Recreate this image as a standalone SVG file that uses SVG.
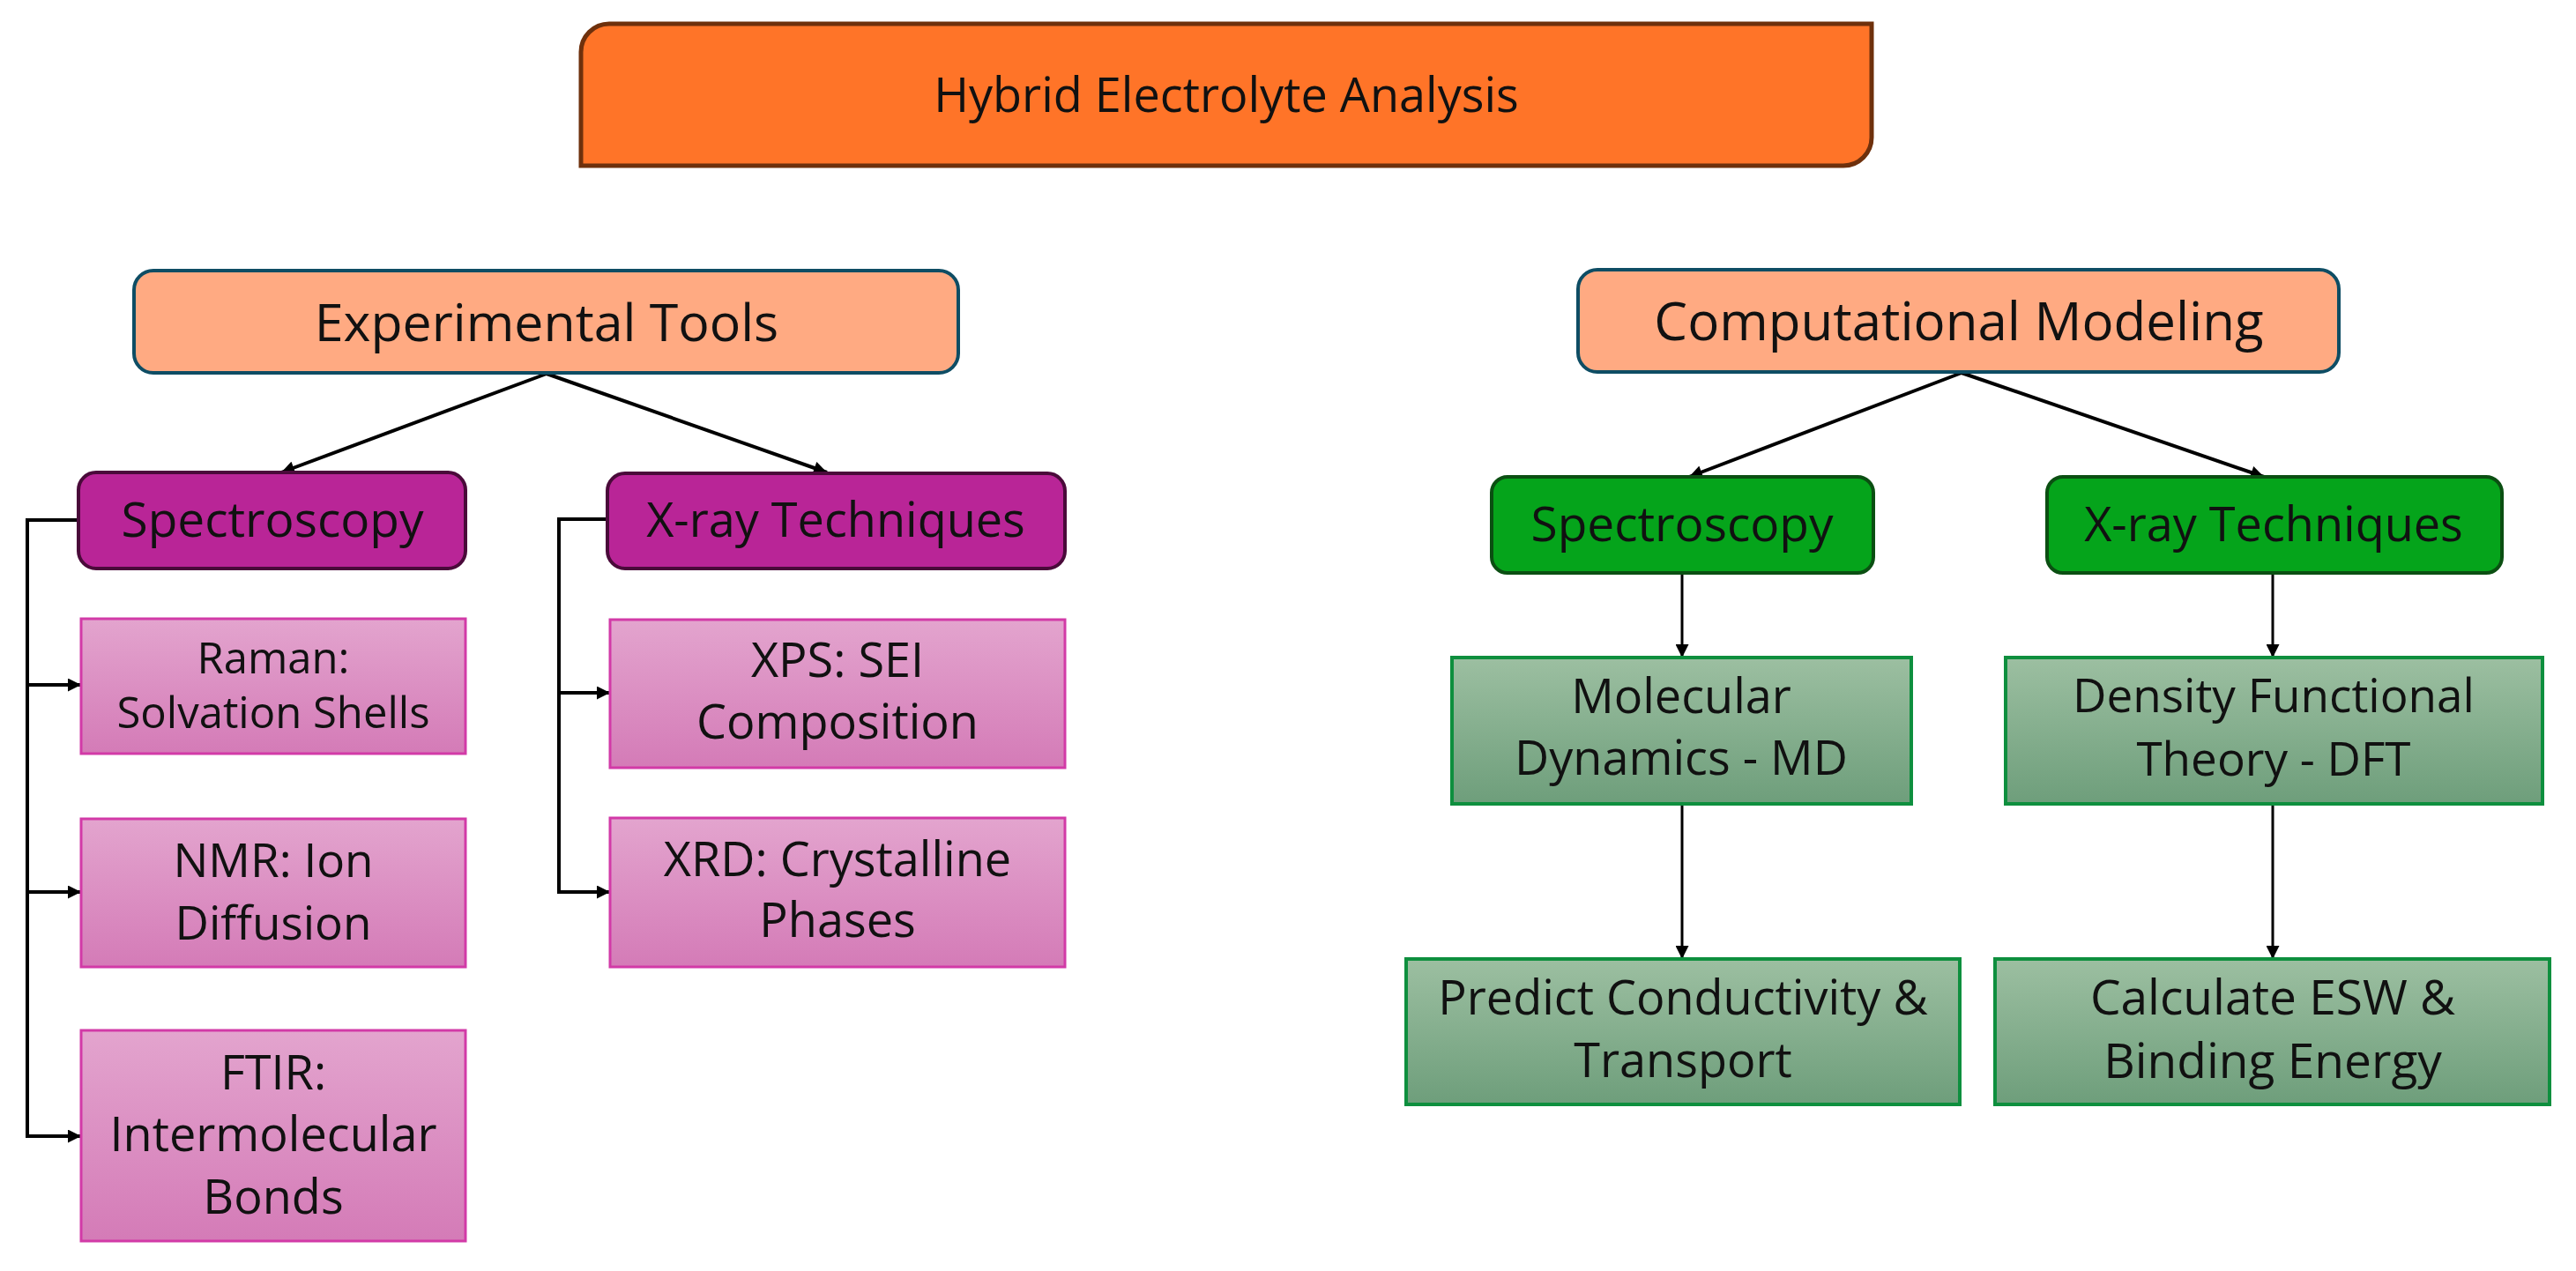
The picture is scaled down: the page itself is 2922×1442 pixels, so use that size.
<svg xmlns="http://www.w3.org/2000/svg" width="2922" height="1442" viewBox="0 0 2922 1442">
<defs>
<linearGradient id="pinkGrad" x1="0" y1="0" x2="0" y2="1">
<stop offset="0" stop-color="#E3A4CE"/>
<stop offset="1" stop-color="#D47BB7"/>
</linearGradient>
<linearGradient id="sageGrad" x1="0" y1="0" x2="0" y2="1">
<stop offset="0" stop-color="#9CBFA1"/>
<stop offset="1" stop-color="#6E9E7B"/>
</linearGradient>
<marker id="arrow" viewBox="0 0 10 10" refX="10" refY="5" markerUnits="userSpaceOnUse" markerWidth="17" markerHeight="15" orient="auto">
<path d="M0,0 L10,5 L0,10 Z" fill="#000"/>
</marker>
</defs>
<style>
text{font-family:"Open Sans","Liberation Sans",Arial,sans-serif;fill:#111;text-anchor:middle}
.title{fill:#FF7428;stroke:#6E300C;stroke-width:5}
.head{fill:#FFAA82;stroke:#0E4D64;stroke-width:4}
.purple{fill:#B92597;stroke:#4A0A3A;stroke-width:4}
.pink{fill:url(#pinkGrad);stroke:#D23AA7;stroke-width:3}
.green{fill:#05A41B;stroke:#0B4F12;stroke-width:4}
.sage{fill:url(#sageGrad);stroke:#0E8F3E;stroke-width:4}
.conn{fill:none;stroke:#000;stroke-width:4}
.thin{fill:none;stroke:#000;stroke-width:3}
</style>
<rect width="2922" height="1442" fill="#fff"/>

<g id="connectors">
<path class="conn" d="M620,424 L319,536" marker-end="url(#arrow)"/>
<path class="conn" d="M620,424 L938,536" marker-end="url(#arrow)"/>
<path class="conn" d="M2225,423 L1916,541" marker-end="url(#arrow)"/>
<path class="conn" d="M2225,423 L2568,541" marker-end="url(#arrow)"/>
<path class="conn" d="M89,590 H31 V1289 H92" marker-end="url(#arrow)"/>
<path class="conn" d="M31,777 H92" marker-end="url(#arrow)"/>
<path class="conn" d="M31,1012 H92" marker-end="url(#arrow)"/>
<path class="conn" d="M689,589 H634 V1012 H692" marker-end="url(#arrow)"/>
<path class="conn" d="M634,786 H692" marker-end="url(#arrow)"/>
<path class="thin" d="M1908,650 V746" marker-end="url(#arrow)"/>
<path class="thin" d="M1908,912 V1088" marker-end="url(#arrow)"/>
<path class="thin" d="M2578,650 V746" marker-end="url(#arrow)"/>
<path class="thin" d="M2578,912 V1088" marker-end="url(#arrow)"/>
</g>

<g id="hybrid">
<path class="title" d="M691,27 H2123 V156 A32,32 0 0 1 2091,188 H659 V59 A32,32 0 0 1 691,27 Z"/>
<text x="1391" y="127" font-size="54">Hybrid Electrolyte Analysis</text>
</g>

<g id="experimental">
<rect class="head" x="152" y="307" width="935" height="116" rx="22"/>
<text x="620" y="387" font-size="59">Experimental Tools</text>
</g>
<g id="computational">
<rect class="head" x="1790" y="306" width="863" height="116" rx="22"/>
<text x="2222" y="386" font-size="60">Computational Modeling</text>
</g>

<g id="exp-spectroscopy">
<rect class="purple" x="89" y="536" width="439" height="109" rx="20"/>
<text x="309" y="609" font-size="55">Spectroscopy</text>
</g>
<g id="exp-xray">
<rect class="purple" x="689" y="537" width="519" height="108" rx="20"/>
<text x="948" y="609" font-size="54">X-ray Techniques</text>
</g>

<g id="raman">
<rect class="pink" x="92" y="702" width="436" height="153"/>
<text x="310" y="764" font-size="49">Raman:</text>
<text x="310" y="826" font-size="49">Solvation Shells</text>
</g>
<g id="nmr">
<rect class="pink" x="92" y="929" width="436" height="168"/>
<text x="310" y="995" font-size="53">NMR: Ion</text>
<text x="310" y="1066" font-size="53">Diffusion</text>
</g>
<g id="ftir">
<rect class="pink" x="92" y="1169" width="436" height="239"/>
<text x="310" y="1236" font-size="54">FTIR:</text>
<text x="310" y="1306" font-size="54">Intermolecular</text>
<text x="310" y="1377" font-size="54">Bonds</text>
</g>
<g id="xps">
<rect class="pink" x="692" y="703" width="516" height="168"/>
<text x="950" y="768" font-size="54">XPS: SEI</text>
<text x="950" y="838" font-size="54">Composition</text>
</g>
<g id="xrd">
<rect class="pink" x="692" y="928" width="516" height="169"/>
<text x="950" y="994" font-size="54">XRD: Crystalline</text>
<text x="950" y="1063" font-size="54">Phases</text>
</g>

<g id="comp-spectroscopy">
<rect class="green" x="1692" y="541" width="433" height="109" rx="18"/>
<text x="1908" y="614" font-size="55">Spectroscopy</text>
</g>
<g id="comp-xray">
<rect class="green" x="2322" y="541" width="516" height="109" rx="18"/>
<text x="2579" y="614" font-size="54">X-ray Techniques</text>
</g>

<g id="md">
<rect class="sage" x="1647" y="746" width="521" height="166"/>
<text x="1907" y="809" font-size="54">Molecular</text>
<text x="1907" y="879" font-size="54">Dynamics - MD</text>
</g>
<g id="dft">
<rect class="sage" x="2275" y="746" width="609" height="166"/>
<text x="2579" y="808" font-size="53">Density Functional</text>
<text x="2579" y="880" font-size="53">Theory - DFT</text>
</g>
<g id="predict">
<rect class="sage" x="1595" y="1088" width="628" height="165"/>
<text x="1909" y="1151" font-size="54">Predict Conductivity &amp;</text>
<text x="1909" y="1222" font-size="54">Transport</text>
</g>
<g id="calculate">
<rect class="sage" x="2263" y="1088" width="629" height="165"/>
<text x="2578" y="1151" font-size="55">Calculate ESW &amp;</text>
<text x="2578" y="1223" font-size="55">Binding Energy</text>
</g>
</svg>
